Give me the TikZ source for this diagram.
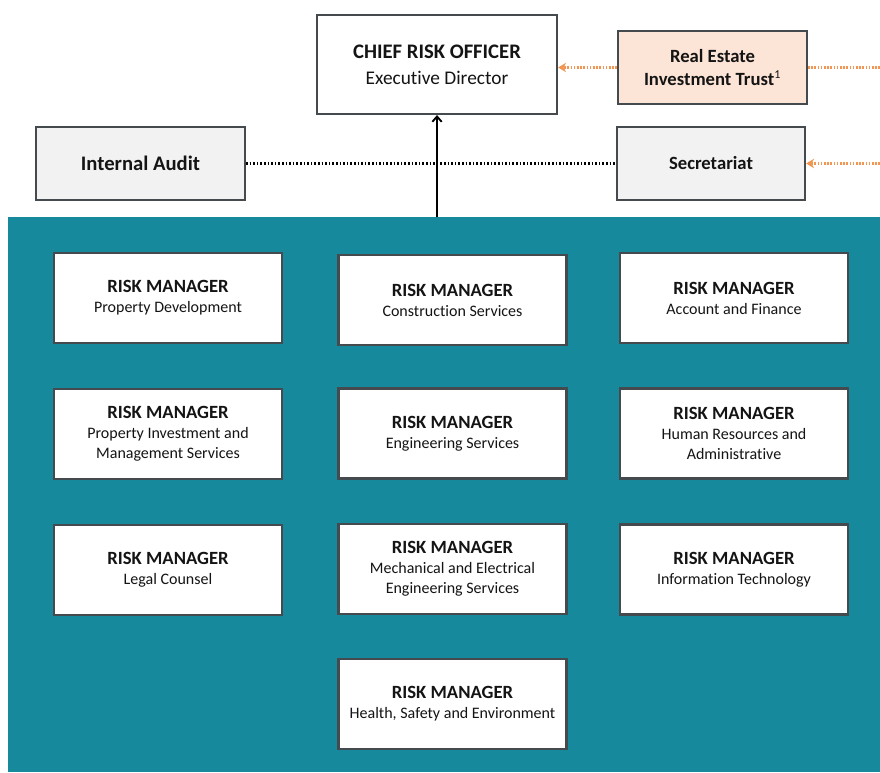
\documentclass[tikz,border=0pt]{standalone}
\usepackage{fontspec}
\setmainfont{Carlito}[Ligatures=NoCommon]
\usepackage{tikz}
\usepackage{xcolor}
\usetikzlibrary{positioning, arrows.meta, shadows}
\definecolor{panelteal}{RGB}{22, 137, 156}
\definecolor{boxborder}{RGB}{68, 74, 78}
\definecolor{reitfill}{RGB}{252, 228, 214}
\definecolor{sidefill}{RGB}{242, 242, 242}
\definecolor{linkorange}{RGB}{240, 150, 82}
\definecolor{txtdark}{RGB}{20, 20, 20}
\tikzset{
    basebox/.style={rectangle, draw=boxborder, line width=1.6pt, align=center, text=txtdark,
        drop shadow={shadow xshift=0.9pt, shadow yshift=-0.9pt, opacity=0.35}},
    rmbox/.style={basebox, fill=white, minimum width=171pt, minimum height=67.5pt,
        font=\fontsize{12}{15}\selectfont},
    sidebox/.style={basebox, fill=sidefill, minimum height=54.75pt,
        font=\fontsize{14}{17}\selectfont\bfseries},
    reitbox/.style={sidebox, fill=reitfill, minimum width=141.75pt},
    crobox/.style={basebox, fill=white, minimum width=180pt, minimum height=74.25pt,
        font=\fontsize{14.5}{19.5}\selectfont},
    reportline/.style={line width=1.4pt, -{Straight Barb[length=4pt, width=7pt]}},
    auditline/.style={line width=1.6pt, dash pattern=on 1.2pt off 1.5pt},
    orangeline/.style={line width=1.6pt, dash pattern=on 1.2pt off 1.2pt, linkorange}
}

\begin{document}
\begin{tikzpicture}[x=0.75pt, y=-0.75pt]
                    \useasboundingbox (0,0) rectangle (880,772);
                    \fill[panelteal] (8,217) rectangle (880,772);

                    % top level
                    \node[crobox] (cro) at (437,64.5) {{\fontsize{15.5}{19}\selectfont\bfseries CHIEF RISK OFFICER}\\Executive Director};
                    \node[reitbox] (reit) at (712.5,67.5) {Real Estate\\Investment Trust\textsuperscript{\fontsize{9}{9}\selectfont\mdseries 1}};
                    \node[sidebox, minimum width=141pt] (sec) at (711,163.5) {Secretariat};
                    \node[sidebox, minimum width=156.75pt, font=\fontsize{15.5}{18}\selectfont\bfseries] (audit) at (140.5,163.5) {Internal Audit};
                    \coordinate (reitout) at (880,67.5);
                    \coordinate (secin) at (880,163.5);
                    \coordinate (paneltop) at (437,217);

                    % risk managers
                    \node[rmbox] (propdev) at (168,298) {{\fontsize{14}{17}\selectfont\bfseries RISK MANAGER}\\Property Development};
                    \node[rmbox] (constr) at (452.5,300) {{\fontsize{14}{17}\selectfont\bfseries RISK MANAGER}\\Construction Services};
                    \node[rmbox] (accfin) at (734,298) {{\fontsize{14}{17}\selectfont\bfseries RISK MANAGER}\\Account and Finance};
                    \node[rmbox] (propinv) at (168,434) {{\fontsize{14}{17}\selectfont\bfseries RISK MANAGER}\\Property Investment and\\Management Services};
                    \node[rmbox] (engsrv) at (452.5,433.5) {{\fontsize{14}{17}\selectfont\bfseries RISK MANAGER}\\Engineering Services};
                    \node[rmbox] (hradm) at (734,433.5) {{\fontsize{14}{17}\selectfont\bfseries RISK MANAGER}\\Human Resources and\\Administrative};
                    \node[rmbox] (legal) at (168,570) {{\fontsize{14}{17}\selectfont\bfseries RISK MANAGER}\\Legal Counsel};
                    \node[rmbox] (mechel) at (452.5,569) {{\fontsize{14}{17}\selectfont\bfseries RISK MANAGER}\\Mechanical and Electrical\\Engineering Services};
                    \node[rmbox] (infotech) at (734,569.5) {{\fontsize{14}{17}\selectfont\bfseries RISK MANAGER}\\Information Technology};
                    \node[rmbox] (hse) at (452.5,704) {{\fontsize{14}{17}\selectfont\bfseries RISK MANAGER}\\Health, Safety and Environment};

                    % links
                    \draw[reportline] (paneltop) -- (cro);
                    \draw[auditline] (audit) -- (sec);
                    \draw[orangeline, -{Stealth[length=6pt, width=7pt]}] (reit.west) -- (reit.west -| cro.east);
                    \draw[orangeline] (reit) -- (reitout);
                    \draw[orangeline, -{Stealth[length=6pt, width=7pt]}] (secin) -- (sec);
                \end{tikzpicture}
\end{document}
